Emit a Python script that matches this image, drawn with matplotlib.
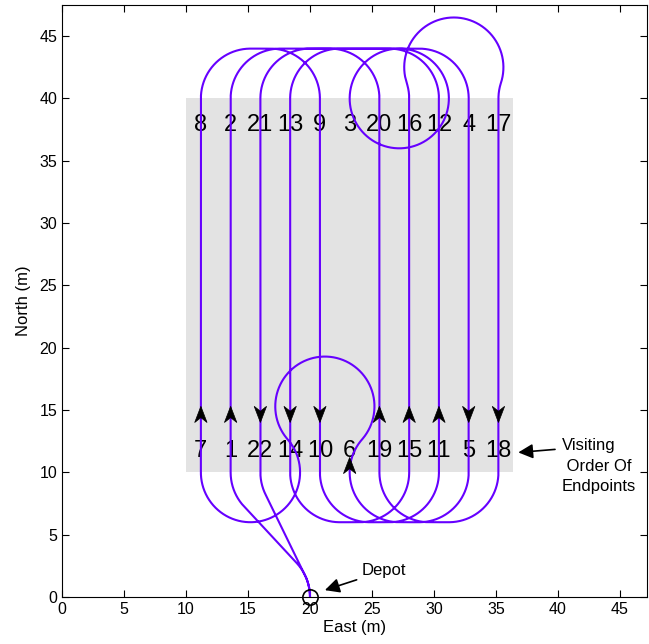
import numpy as np
import matplotlib.pyplot as plt
from matplotlib.patches import Rectangle, Polygon

plt.rcParams['font.family'] = ['Liberation Sans', 'DejaVu Sans']

# field and lanes
field_x = [10.0, 36.4]
field_y = [10.0, 40.0]
lane_x = [11.2, 13.6, 16.0, 18.4, 20.8, 23.2, 25.6, 28.0, 30.4, 32.8, 35.2]
top_labels = [8, 2, 21, 13, 9, 3, 20, 16, 12, 4, 17]
bottom_labels = [7, 1, 22, 14, 10, 6, 19, 15, 11, 5, 18]
lane_heading = ['N', 'N', 'S', 'S', 'S', 'N', 'N', 'N', 'N', 'S', 'S']
depot = (20.0, 0.0)
turn_radius = 4.0

path_color = '#6600ff'
field_color = '#e3e3e3'


def mod2pi(a):
    a = a % (2 * np.pi)
    if a > 2 * np.pi - 1e-9:
        a = 0.0
    return a


def dubins(q0, q1, r, step=0.03):
    dx, dy = q1[0] - q0[0], q1[1] - q0[1]
    d = np.hypot(dx, dy) / r
    th = np.arctan2(dy, dx) % (2 * np.pi) if d > 0 else 0.0
    a = mod2pi(q0[2] - th)
    b = mod2pi(q1[2] - th)
    sa, sb, ca, cb = np.sin(a), np.sin(b), np.cos(a), np.cos(b)
    cab = np.cos(a - b)
    cands = []
    # RSR
    p2 = 2 + d * d - 2 * cab + 2 * d * (sb - sa)
    if p2 >= 0:
        t1 = np.arctan2(ca - cb, d - sa + sb)
        cands.append(('RSR', mod2pi(a - t1), np.sqrt(p2), mod2pi(t1 - b)))
    # LSL
    p2 = 2 + d * d - 2 * cab + 2 * d * (sa - sb)
    if p2 >= 0:
        t1 = np.arctan2(cb - ca, d + sa - sb)
        cands.append(('LSL', mod2pi(t1 - a), np.sqrt(p2), mod2pi(b - t1)))
    # LSR
    p2 = -2 + d * d + 2 * cab + 2 * d * (sa + sb)
    if p2 >= 0:
        p = np.sqrt(p2)
        t0 = np.arctan2(-ca - cb, d + sa + sb) - np.arctan2(-2.0, p)
        cands.append(('LSR', mod2pi(t0 - a), p, mod2pi(t0 - b)))
    # RSL
    p2 = -2 + d * d + 2 * cab - 2 * d * (sa + sb)
    if p2 >= 0:
        p = np.sqrt(p2)
        t0 = np.arctan2(ca + cb, d - sa - sb) - np.arctan2(2.0, p)
        cands.append(('RSL', mod2pi(a - t0), p, mod2pi(b - t0)))
    # RLR
    c = (6 - d * d + 2 * cab + 2 * d * (sa - sb)) / 8
    if abs(c) <= 1:
        phi = np.arctan2(ca - cb, d - sa + sb)
        p = mod2pi(2 * np.pi - np.arccos(c))
        t = mod2pi(a - phi + mod2pi(p / 2))
        cands.append(('RLR', t, p, mod2pi(a - b - t + mod2pi(p))))
    # LRL
    c = (6 - d * d + 2 * cab + 2 * d * (sb - sa)) / 8
    if abs(c) <= 1:
        phi = np.arctan2(ca - cb, d + sa - sb)
        p = mod2pi(2 * np.pi - np.arccos(c))
        t = mod2pi(-a - phi + p / 2)
        cands.append(('LRL', t, p, mod2pi(b - a - t + mod2pi(p))))

    # shortest word, ties go to the earlier one in the list
    word, *segs = min(cands, key=lambda cc: round(sum(cc[1:]), 6))

    x, y, h = 0.0, 0.0, q0[2]
    pts = []
    for kind, length in zip(word, segs):
        s = np.linspace(0, length, max(2, int(length * r / step)))
        if kind == 'L':
            xs = x + np.sin(h + s) - np.sin(h)
            ys = y - np.cos(h + s) + np.cos(h)
            hn = h + length
        elif kind == 'R':
            xs = x - np.sin(h - s) + np.sin(h)
            ys = y + np.cos(h - s) - np.cos(h)
            hn = h - length
        else:
            xs = x + np.cos(h) * s
            ys = y + np.sin(h) * s
            hn = h
        pts.append(np.column_stack([xs, ys]))
        x, y, h = xs[-1], ys[-1], hn
    return np.vstack(pts) * r + np.array([q0[0], q0[1]])


# poses in visiting order
poses = [(depot[0], depot[1], np.pi / 2)]
for k in range(1, 23):
    if k in top_labels:
        i = top_labels.index(k)
        yy = field_y[1]
    else:
        i = bottom_labels.index(k)
        yy = field_y[0]
    hd = np.pi / 2 if lane_heading[i] == 'N' else -np.pi / 2
    poses.append((lane_x[i], yy, hd))
poses.append((depot[0], depot[1], -np.pi / 2))

path = np.vstack([dubins(poses[j], poses[j + 1], turn_radius)
                  for j in range(len(poses) - 1)])

fig = plt.figure(figsize=(6.49, 6.44), dpi=100)
ax = fig.add_axes([62 / 649, 47 / 644, 585 / 649, 592 / 644])

ax.add_patch(Rectangle((field_x[0], field_y[0]), field_x[1] - field_x[0],
                       field_y[1] - field_y[0], facecolor=field_color,
                       edgecolor='none', zorder=0))

for i, x in enumerate(lane_x):
    ax.text(x, 37.85, str(top_labels[i]), fontsize=17, ha='center',
            va='center', zorder=2)
    ax.text(x, 11.75, str(bottom_labels[i]), fontsize=17, ha='center',
            va='center', zorder=2)

ax.plot(path[:, 0], path[:, 1], color=path_color, lw=1.5, zorder=3)


def arrow_head(x, y_tip, up=True, length=1.3, width=1.0):
    sgn = 1 if up else -1
    pts = [(x, y_tip),
           (x - width / 2, y_tip - sgn * length),
           (x, y_tip - sgn * length * 0.7),
           (x + width / 2, y_tip - sgn * length)]
    ax.add_patch(Polygon(pts, closed=True, facecolor='k', edgecolor='k',
                         lw=0.5, zorder=4))


for i, x in enumerate(lane_x):
    up = lane_heading[i] == 'N'
    if i == 5:
        arrow_head(x, 11.2, up=True)
    elif up:
        arrow_head(x, 15.3, up=True)
    else:
        arrow_head(x, 14.0, up=False)

ax.plot(depot[0], depot[1], 'o', ms=11, mfc='none', mec='k', mew=1.2,
        zorder=5, clip_on=False)

ax.annotate('Depot', xy=(21.2, 0.55), xytext=(24.2, 2.1), fontsize=12,
            ha='left', va='center',
            arrowprops=dict(arrowstyle='-|>', color='k', lw=1.2,
                            mutation_scale=22, shrinkA=2, shrinkB=0))
ax.annotate('Visiting\n Order Of\nEndpoints', xy=(36.8, 11.6),
            xytext=(40.3, 10.5), fontsize=12, ha='left', va='center',
            multialignment='left', linespacing=1.45,
            arrowprops=dict(arrowstyle='-|>', color='k', lw=1.2,
                            mutation_scale=22, shrinkA=0, shrinkB=0,
                            relpos=(-0.09, 0.8)))

ax.set_xlim(0, 47.18)
ax.set_ylim(0, 47.5)
ax.set_xticks(np.arange(0, 50, 5))
ax.set_yticks(np.arange(0, 50, 5))
ax.tick_params(direction='in', top=True, right=True, labelsize=11.5,
               length=5)
ax.set_xlabel('East (m)', fontsize=12, labelpad=2)
ax.set_ylabel('North (m)', fontsize=12, labelpad=6)

fig.savefig('out.png', dpi=100)
